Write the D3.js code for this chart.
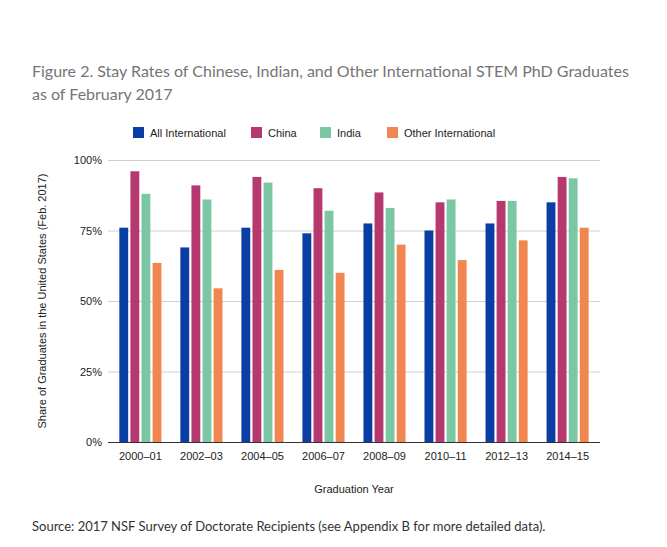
<!DOCTYPE html>
<html><head><meta charset="utf-8">
<script src="https://cdn.jsdelivr.net/npm/d3@7"></script>
<style>body{margin:0;background:#fff}</style></head>
<body><svg id="c" width="667" height="547"></svg>
<script>
const categories=["2000–01","2002–03","2004–05","2006–07","2008–09","2010–11","2012–13","2014–15"];
const seriesNames=["All International","China","India","Other International"];
const colors=["#0a3ea5","#b5386f","#7cc7a3","#f28650"];
const allIntl=[76,69,76,74,77.5,75,77.5,85];
const china=[96,91,94,90,88.5,85,85.5,94];
const india=[88,86,92,82,83,86,85.5,93.5];
const other=[63.5,54.5,61,60,70,64.5,71.5,76];
const yTicks=[0,25,50,75,100];
const series=[allIntl,china,india,other];
const svg=d3.select("#c");
const L=108,R=600,T=160,B=442;
const x=d3.scaleBand().domain(categories).range([L+4,R-4]).paddingInner(0.31).paddingOuter(0.12);
const xs=d3.scaleBand().domain(d3.range(4)).range([0,x.bandwidth()]).paddingInner(0.2);
const y=d3.scaleLinear().domain([0,100]).range([B,T]);
svg.append("text").attr("x",32).attr("y",77).attr("fill","#757575").attr("font-family","Lato").attr("font-size",16).text("Figure 2. Stay Rates of Chinese, Indian, and Other International STEM PhD Graduates");
svg.append("text").attr("x",32).attr("y",100).attr("fill","#757575").attr("font-family","Lato").attr("font-size",16).text("as of February 2017");
const ya=svg.append("g").attr("transform",`translate(${L},0)`).call(d3.axisLeft(y).tickValues(yTicks).tickSize(-(R-L)).tickFormat(d=>d+"%"));
ya.select(".domain").remove();
ya.selectAll(".tick line").attr("stroke","#d0d0d0");
ya.selectAll(".tick text").attr("font-family","Arial").attr("font-size",11).attr("fill","#222").attr("x",-6);
ya.selectAll(".tick").filter(d=>d===0).select("line").attr("stroke","#333");
categories.forEach((c,i)=>{
  series.forEach((s,j)=>{
    svg.append("rect").attr("x",x(c)+xs(j)).attr("width",xs.bandwidth()).attr("y",y(s[i])).attr("height",B-y(s[i])).attr("fill",colors[j]);
  });
});
const xa=svg.append("g").attr("transform",`translate(0,${B})`).call(d3.axisBottom(x).tickSize(0).tickPadding(10));
xa.select(".domain").remove();
xa.selectAll("text").attr("font-family","Arial").attr("font-size",11).attr("fill","#222");
svg.append("text").attr("x",354).attr("y",493).attr("text-anchor","middle").attr("font-family","Arial").attr("font-size",11).attr("fill","#222").text("Graduation Year");
svg.append("text").attr("transform","translate(46,301) rotate(-90)").attr("text-anchor","middle").attr("font-family","Arial").attr("font-size",11).attr("fill","#222").text("Share of Graduates in the United States (Feb. 2017)");
const lx=[133,251,320,387];
seriesNames.forEach((n,j)=>{
  svg.append("rect").attr("x",lx[j]).attr("y",127).attr("width",11).attr("height",11).attr("fill",colors[j]);
  svg.append("text").attr("x",lx[j]+17).attr("y",137).attr("font-family","Arial").attr("font-size",11).attr("fill","#222").text(n);
});
svg.append("text").attr("x",32).attr("y",531).attr("fill","#333").attr("font-family","Lato").attr("font-size",13).text("Source: 2017 NSF Survey of Doctorate Recipients (see Appendix B for more detailed data).");
</script></body></html>
